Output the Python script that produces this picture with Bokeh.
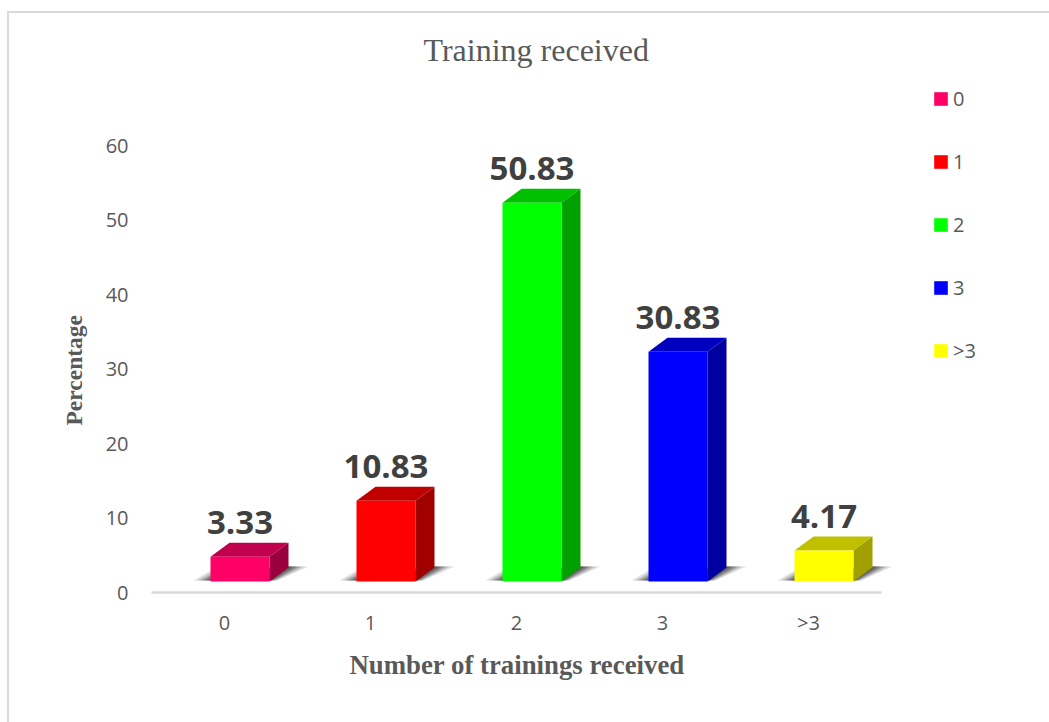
from bokeh.plotting import figure
from bokeh.embed import file_html
from bokeh.resources import INLINE
from bokeh.models import FixedTicker, Legend, LegendItem, ColumnDataSource, Title
from bokeh.core.properties import value

categories = ["0", "1", "2", "3", ">3"]
percentages = [3.33, 10.83, 50.83, 30.83, 4.17]
front_colors = ["#ff0066", "#ff0000", "#00ff00", "#0000ff", "#ffff00"]
top_colors = ["#c0004d", "#c00000", "#00c000", "#0000c0", "#c0c000"]
side_colors = ["#99003d", "#a00000", "#00a000", "#0000a0", "#a0a000"]
y_ticks = [0, 10, 20, 30, 40, 50, 60]

W, H = 1049, 722
FL, FR, FT, FB = 151, 1010, 72, 592
UX = 1 / 146
UY = 60 / 447
FLOOR = 11 * UY
OFF = 15.5 * UX
HALF = 29.5 * UX
DX = 19 * UX
DY = 14 * UY

p = figure(width=W, height=H, output_backend="svg", toolbar_location=None,
           x_range=(0, (FR - FL) * UX), y_range=(0, (FB - FT) * UY), title="Training received",
           min_border_left=FL, min_border_right=W - FR,
           min_border_top=FT, min_border_bottom=H - FB)
p.outline_line_color = None
p.grid.visible = False
p.background_fill_color = None
p.border_fill_color = None
p.styles = {
    "background-image": "linear-gradient(#d9d9d9,#d9d9d9),linear-gradient(#d9d9d9,#d9d9d9)",
    "background-size": "2px 100%,100% 2px",
    "background-position": "7px 11px,7px 11px",
    "background-repeat": "no-repeat",
}

p.title.align = "left"
p.title.offset = 272
p.title.standoff = 10
p.title.text_font = "Liberation Serif"
p.title.text_font_size = "32px"
p.title.text_font_style = "normal"
p.title.text_color = "#595959"

xa = p.xaxis[0]
xa.bounds = (0, 5)
xa.ticker = FixedTicker(ticks=[i + 0.5 for i in range(len(categories))])
xa.major_label_overrides = {i + 0.5: c for i, c in enumerate(categories)}
xa.axis_line_color = "#d9d9d9"
xa.axis_line_width = 2.5
xa.major_tick_line_color = None
xa.minor_tick_line_color = None
xa.major_label_standoff = 10
xa.major_label_text_font = "Open Sans"
xa.major_label_text_font_size = "20px"
xa.major_label_text_color = "#595959"

ya = p.yaxis[0]
ya.bounds = (0, 60)
ya.ticker = FixedTicker(ticks=y_ticks)
ya.axis_line_color = None
ya.major_tick_line_color = None
ya.minor_tick_line_color = None
ya.major_label_standoff = 17
ya.major_label_text_font = "Open Sans"
ya.major_label_text_font_size = "20px"
ya.major_label_text_color = "#595959"

p.add_layout(Title(text="Number of trainings received", align="left", offset=198, standoff=19,
                   text_font="Liberation Serif", text_font_size="26.8px", text_font_style="bold",
                   text_color="#595959"), "below")
p.add_layout(Title(text="Percentage", align="left", offset=167, standoff=31,
                   text_font="Liberation Serif", text_font_size="23.5px", text_font_style="bold",
                   text_color="#595959"), "left")

legend_items = []
centers = []
for i, (cat, v) in enumerate(zip(categories, percentages)):
    c = i + 0.5 + OFF
    centers.append(c)
    l, r = c - HALF, c + HALF
    t = FLOOR + v
    # soft contact shadow, built up from translucent layers
    for g, a in [(1.0, 0.14), (0.8, 0.18), (0.6, 0.26), (0.4, 0.34), (0.2, 0.38)]:
        p.patch([l - 17 * g * UX, l, r + DX, r + DX + 20 * g * UX, r + 8 * g * UX, l],
                [FLOOR + 1 * UY, FLOOR + 11 * g * UY, FLOOR + DY + 1 * UY,
                 FLOOR + DY + 1 * UY, FLOOR + 1 * UY, FLOOR + 1 * UY],
                fill_color="#303030", fill_alpha=a, line_color=None)
    p.patch([l, r, r + DX, l + DX], [t, t, t + DY, t + DY],
            fill_color=top_colors[i], line_color=None)
    p.patch([r, r + DX, r + DX, r], [FLOOR, FLOOR + DY, t + DY, t],
            fill_color=side_colors[i], line_color=None)
    front = p.quad(left=l, right=r, bottom=FLOOR, top=t,
                   fill_color=front_colors[i], line_color=None)
    legend_items.append(LegendItem(label=cat, renderers=[front]))

src = ColumnDataSource(dict(x=centers, y=[FLOOR + v for v in percentages],
                            t=[f"{v:.2f}" for v in percentages]))
p.text(x="x", y="y", text="t", source=src, text_align="center", text_baseline="alphabetic",
       y_offset=-34, text_font=value("Open Sans"), text_font_size="33px",
       text_font_style="bold", text_color="#404040")

legend = Legend(items=legend_items, location=(781, 228), orientation="vertical",
                glyph_width=17, glyph_height=17, label_height=14, label_width=20,
                label_standoff=4, spacing=36, padding=0, margin=0,
                border_line_color=None, background_fill_alpha=0,
                label_text_font="Open Sans", label_text_font_size="20px",
                label_text_color="#595959")
p.add_layout(legend, "center")

open("out.html", "w").write(file_html(p, INLINE))
